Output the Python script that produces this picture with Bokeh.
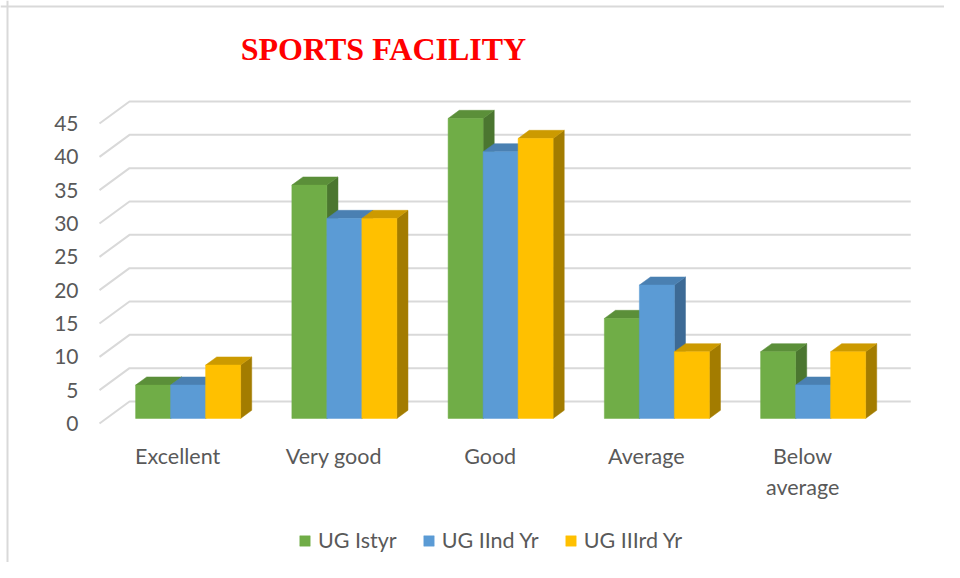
from bokeh.plotting import figure
from bokeh.models import Range1d, Legend, LegendItem, Span
from bokeh.core.properties import value
from bokeh.embed import file_html
from bokeh.resources import INLINE

# ---- data ----
categories = ["Excellent", "Very good", "Good", "Average", "Below average"]
cat_labels = ["Excellent", "Very good", "Good", "Average", "Below\naverage"]
series_names = ["UG Istyr", "UG IInd Yr", "UG IIIrd Yr"]
ug_1st = [5, 35, 45, 15, 10]
ug_2nd = [5, 30, 40, 20, 5]
ug_3rd = [8, 30, 42, 10, 10]
y_ticks = [0, 5, 10, 15, 20, 25, 30, 35, 40, 45]
title_text = "SPORTS FACILITY"

series_values = [ug_1st, ug_2nd, ug_3rd]
front_colors = ["#70AD47", "#5B9BD5", "#FFC000"]
top_colors = ["#5B8F39", "#4A80B2", "#CC9A00"]
side_colors = ["#4B7630", "#3D6A95", "#A37C00"]

# ---- layout (screen geometry, relative to the picture's top-left) ----
W, H = 944, 562
PX_X = 156.25        # pixels per category
PX_Y = 6.6667        # pixels per value unit
X0, Y0 = 99, 423     # position of front-left floor corner
DEPTH_X = 30 / PX_X  # full depth vector in data units
DEPTH_Y = 22 / PX_Y
D_FRONT, D_BACK = 0.23, 0.60   # bar depth range (fraction of full depth)
BAR_LEFT = 0.187
BAR_W = 0.224

def dx(px):  # screen x -> data x
    return (px - X0) / PX_X

def dy(py):  # screen y -> data y
    return (Y0 - py) / PX_Y

p = figure(width=W, height=H, output_backend="svg", toolbar_location=None,
           x_range=Range1d(dx(0), dx(W)), y_range=Range1d(dy(H), dy(0)),
           x_axis_type=None, y_axis_type=None, min_border=0)
p.grid.visible = False
p.outline_line_color = None
p.background_fill_color = "white"

# border of chart area (left and top)
p.add_layout(Span(location=dx(7), dimension="height", line_color="#D9D9D9", line_width=2))
p.add_layout(Span(location=dy(6), dimension="width", line_color="#D9D9D9", line_width=2))

# gridlines with perspective: front-left -> back-left -> back-right
n = len(categories)
gx, gy = [], []
for v in y_ticks:
    gx.append([0, DEPTH_X, n + DEPTH_X])
    gy.append([v, v + DEPTH_Y, v + DEPTH_Y])
p.multi_line(gx, gy, line_color="#D9D9D9", line_width=2)

# tick labels
p.text(x=[dx(78)] * len(y_ticks), y=y_ticks, text=[str(t) for t in y_ticks],
       text_align="right", text_baseline="middle", text_font=value("Lato"),
       text_font_size="21px", text_color="#595959")

# bars
fx0, fy0 = DEPTH_X * D_FRONT, DEPTH_Y * D_FRONT
fx1, fy1 = DEPTH_X * D_BACK, DEPTH_Y * D_BACK
legend_items = []
for s, vals in enumerate(series_values):
    lefts = [i + BAR_LEFT + s * BAR_W for i in range(n)]
    rights = [l + BAR_W for l in lefts]
    side_x, side_y, top_x, top_y = [], [], [], []
    for l, r, v in zip(lefts, rights, vals):
        side_x.append([r + fx0, r + fx1, r + fx1, r + fx0])
        side_y.append([fy0, fy1, v + fy1, v + fy0])
        top_x.append([l + fx0, r + fx0, r + fx1, l + fx1])
        top_y.append([v + fy0, v + fy0, v + fy1, v + fy1])
    p.patches(side_x, side_y, fill_color=side_colors[s], line_color=side_colors[s], line_width=0.5)
    p.patches(top_x, top_y, fill_color=top_colors[s], line_color=top_colors[s], line_width=0.5)
    front = p.quad(left=[l + fx0 for l in lefts], right=[r + fx0 for r in rights],
                   bottom=[fy0] * n, top=[v + fy0 for v in vals],
                   fill_color=front_colors[s], line_color=front_colors[s], line_width=0.5)
    legend_items.append(LegendItem(label=series_names[s], renderers=[front]))

# category labels
p.text(x=[i + 0.5 for i in range(n)], y=[dy(442)] * n, text=cat_labels,
       text_align="center", text_baseline="top", text_font=value("Lato"),
       text_font_size="21.5px", text_color="#595959", text_line_height=1.2)

# title
p.text(x=[dx(383)], y=[dy(48)], text=[title_text], text_align="center",
       text_baseline="middle", text_font=value("Liberation Serif"),
       text_font_style="bold", text_font_size="32px", text_color="#FF0000")

legend = Legend(items=legend_items, orientation="horizontal", location=(298, H - 553),
                glyph_width=13, glyph_height=13, label_height=20, label_standoff=7,
                spacing=25, padding=0, margin=0, border_line_color=None,
                background_fill_alpha=0, label_text_font="Lato",
                label_text_font_size="21.5px", label_text_color="#595959")
p.add_layout(legend, "center")

open("out.html", "w").write(file_html(p, INLINE))
